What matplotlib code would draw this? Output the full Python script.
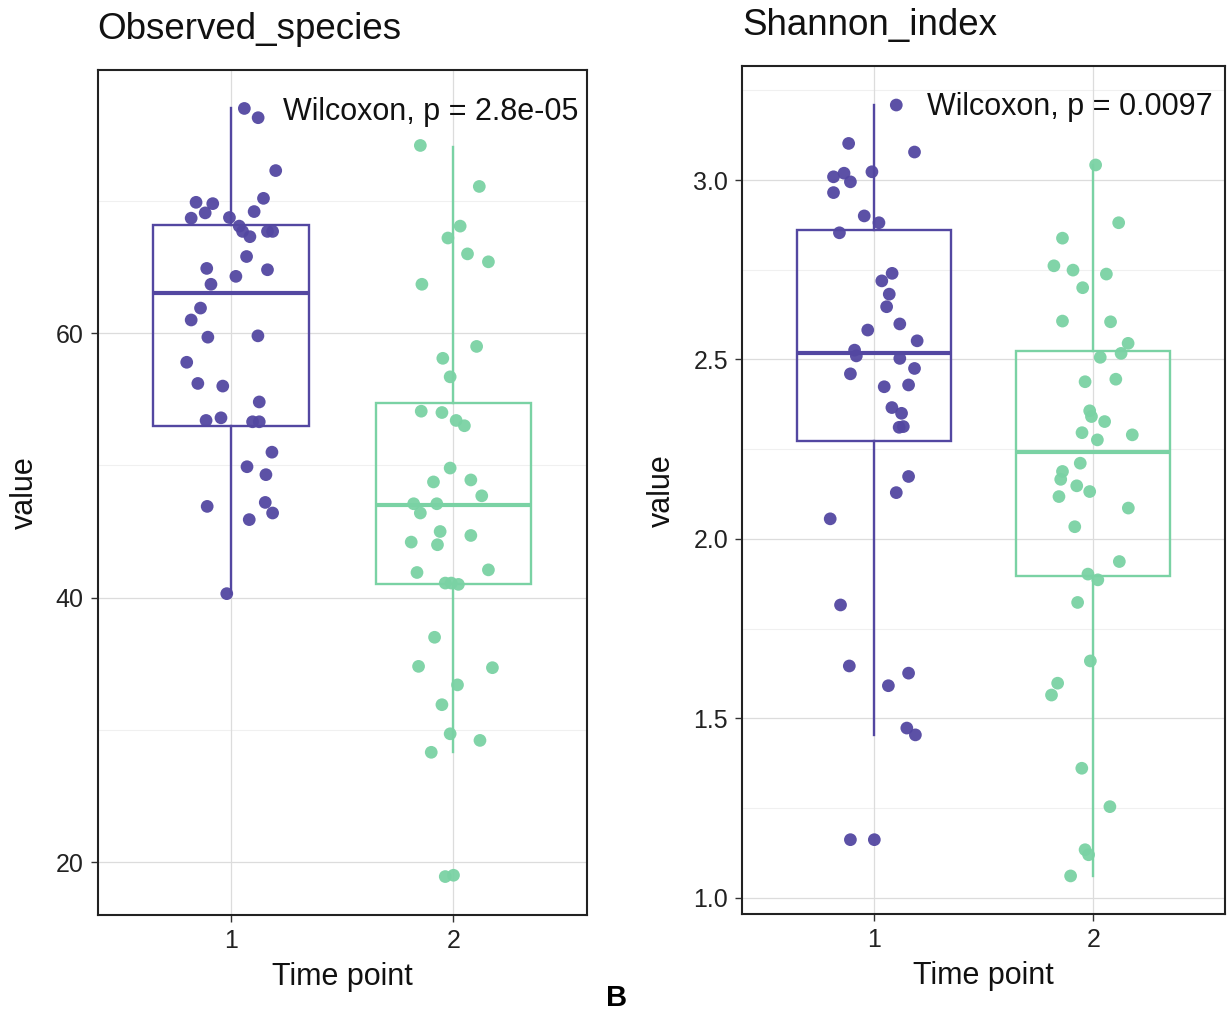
import numpy as np
import matplotlib
matplotlib.use('Agg')
import matplotlib.pyplot as plt

plt.rcParams['font.family'] = ['Liberation Sans', 'DejaVu Sans']

groups = [1, 2]
group_cols = ['#5347a1', '#7ad2a4']

# Observed_species: jitter offsets from group centre and values
obs_jit1 = [0.060, 0.122, 0.201, -0.157, -0.082, 0.146, -0.116, 0.104, -0.179, -0.007,
            0.037, 0.052, 0.085, 0.164, 0.187, 0.070, -0.109, 0.022, 0.164, -0.090,
            -0.137, -0.179, -0.104, 0.121, -0.199, -0.149, -0.037, 0.127, -0.112, -0.045,
            0.097, 0.127, 0.184, 0.072, 0.157, -0.107, 0.154, 0.187, 0.082, -0.019]
obs_val1 = [77.0, 76.3, 72.3, 69.9, 69.8, 70.2, 69.1, 69.2, 68.7, 68.75,
            68.1, 67.7, 67.3, 67.7, 67.7, 65.8, 64.9, 64.3, 64.8, 63.7,
            61.9, 61.0, 59.7, 59.8, 57.8, 56.2, 56.0, 54.8, 53.4, 53.6,
            53.3, 53.3, 51.0, 49.9, 49.3, 46.9, 47.2, 46.4, 45.9, 40.3]
obs_jit2 = [-0.149, 0.116, 0.030, -0.025, 0.063, 0.157, -0.142, 0.104, -0.048, -0.015,
            -0.145, -0.052, 0.012, 0.049, -0.015, -0.090, 0.078, 0.127, -0.179, -0.075,
            -0.149, -0.060, 0.078, -0.190, -0.072, -0.164, 0.157, -0.037, -0.010, 0.022,
            -0.085, -0.157, 0.175, 0.018, -0.052, -0.015, 0.119, -0.100, -0.037, 0.000]
obs_val2 = [74.2, 71.1, 68.1, 67.2, 66.0, 65.4, 63.7, 59.0, 58.1, 56.7,
            54.1, 54.0, 53.4, 53.0, 49.8, 48.75, 48.9, 47.7, 47.1, 47.1,
            46.4, 45.0, 44.7, 44.2, 44.0, 41.9, 42.1, 41.1, 41.1, 41.0,
            37.0, 34.8, 34.7, 33.4, 31.9, 29.7, 29.2, 28.3, 18.9, 19.0]
# box stats: whislo, q1, median, q3, whishi
obs_box1 = [40.3, 53.0, 63.05, 68.2, 77.0]
obs_box2 = [28.3, 41.0, 47.0, 54.7, 74.1]

# Shannon_index
sha_jit1 = [0.103, -0.114, 0.186, -0.183, -0.135, -0.106, -0.008, -0.183, -0.043, 0.024,
            -0.156, 0.084, 0.037, 0.071, 0.059, -0.027, 0.119, 0.198, -0.087, -0.079,
            0.119, 0.186, -0.106, 0.048, 0.159, 0.083, 0.127, 0.135, 0.116, 0.159,
            0.103, -0.198, -0.151, -0.111, 0.159, 0.067, 0.151, 0.190, -0.106, 0.003]
sha_val1 = [3.209, 3.102, 3.078, 3.009, 3.019, 2.995, 3.023, 2.965, 2.900, 2.881,
            2.853, 2.740, 2.719, 2.682, 2.647, 2.582, 2.599, 2.552, 2.526, 2.510,
            2.503, 2.475, 2.460, 2.424, 2.429, 2.366, 2.350, 2.313, 2.311, 2.174,
            2.129, 2.056, 1.816, 1.646, 1.626, 1.591, 1.473, 1.454, 1.162, 1.162]
sha_jit2 = [0.011, 0.116, -0.140, -0.179, -0.092, 0.060, -0.048, -0.140, 0.079, 0.159,
            0.127, 0.032, -0.037, 0.103, -0.016, -0.008, 0.052, -0.051, 0.019, 0.178,
            -0.059, -0.140, -0.148, -0.075, -0.016, -0.156, 0.160, -0.084, 0.119, -0.024,
            0.021, -0.071, -0.013, -0.162, -0.190, -0.052, 0.076, -0.037, -0.021, -0.103]
sha_val2 = [3.042, 2.881, 2.838, 2.761, 2.749, 2.738, 2.700, 2.607, 2.605, 2.545,
            2.517, 2.506, 2.438, 2.445, 2.357, 2.341, 2.327, 2.296, 2.276, 2.290,
            2.211, 2.188, 2.166, 2.148, 2.132, 2.118, 2.086, 2.034, 1.937, 1.902,
            1.886, 1.823, 1.660, 1.598, 1.565, 1.361, 1.254, 1.134, 1.120, 1.061]
sha_box1 = [1.454, 2.274, 2.519, 2.861, 3.209]
sha_box2 = [1.061, 1.897, 2.243, 2.525, 3.042]

panels = [
    dict(title='Observed_species', jit=[obs_jit1, obs_jit2], val=[obs_val1, obs_val2],
         box=[obs_box1, obs_box2], label='Wilcoxon, p = 2.8e-05', lab_pos=(1.233, 76.1),
         major=[20, 40, 60], minor=[30, 50, 70], fmt='{:.0f}',
         rect=[0.0794, 0.1012, 0.3986, 0.830], ylab_x=-0.148),
    dict(title='Shannon_index', jit=[sha_jit1, sha_jit2], val=[sha_val1, sha_val2],
         box=[sha_box1, sha_box2], label='Wilcoxon, p = 0.0097', lab_pos=(1.241, 3.181),
         major=[1.0, 1.5, 2.0, 2.5, 3.0], minor=[1.25, 1.75, 2.25, 2.75, 3.25], fmt='{:.1f}',
         rect=[0.6042, 0.1017, 0.3933, 0.833], ylab_x=-0.166),
]

fig = plt.figure(figsize=(12.28, 10.18), dpi=100)

for p in panels:
    ax = fig.add_axes(p['rect'])
    allv = np.concatenate([np.array(v) for v in p['val']])
    lo, hi = allv.min(), allv.max()
    pad = 0.05 * (hi - lo)
    ax.set_ylim(lo - pad, hi + pad)
    ax.set_xlim(0.4, 2.6)

    # grid
    for m in p['minor']:
        ax.axhline(m, color='#f0f0f0', lw=0.8, zorder=0)
    for m in p['major']:
        ax.axhline(m, color='#dcdcdc', lw=0.9, zorder=0)
    for g in groups:
        ax.axvline(g, color='#dcdcdc', lw=0.9, zorder=0)

    for i, g in enumerate(groups):
        wlo, q1, med, q3, whi = p['box'][i]
        stats = [dict(whislo=wlo, q1=q1, med=med, q3=q3, whishi=whi, fliers=[])]
        c = group_cols[i]
        ax.bxp(stats, positions=[g], widths=0.7, showcaps=False, showfliers=False,
               patch_artist=True,
               boxprops=dict(facecolor='none', edgecolor=c, lw=1.7),
               whiskerprops=dict(color=c, lw=1.7),
               medianprops=dict(color=c, lw=3.0),
               manage_ticks=False, zorder=2)
        xs = g + np.array(p['jit'][i])
        ax.scatter(xs, p['val'][i], s=84, color=c, edgecolors='none', alpha=0.95, zorder=3)

    ax.text(p['lab_pos'][0], p['lab_pos'][1], p['label'], fontsize=22, ha='left',
            va='baseline', color='#111111', zorder=4)
    ax.text(0.0, 1.0373, p['title'], transform=ax.transAxes, fontsize=26.5,
            ha='left', va='baseline', color='#111111')

    ax.set_xticks(groups)
    ax.set_xticklabels([str(g) for g in groups])
    ax.set_yticks(p['major'])
    ax.set_yticklabels([p['fmt'].format(v) for v in p['major']])
    ax.tick_params(axis='both', direction='out', length=5, width=1, color='#333333',
                   labelsize=18, labelcolor='#222222', pad=5)
    for s in ax.spines.values():
        s.set_color('#222222')
        s.set_linewidth(1.5)

    ax.set_xlabel('Time point', fontsize=22, color='#111111')
    ax.xaxis.set_label_coords(0.5, -0.073)
    ax.xaxis.label.set_va('center')
    ax.set_ylabel('value', fontsize=22, color='#111111')
    ax.yaxis.set_label_coords(p['ylab_x'], 0.5)
    ax.yaxis.label.set_va('center')

fig.text(617 / 1228, 1 - 998 / 1018, 'B', fontsize=21, fontweight='bold',
         ha='center', va='center')

fig.savefig('out.png', dpi=100)
